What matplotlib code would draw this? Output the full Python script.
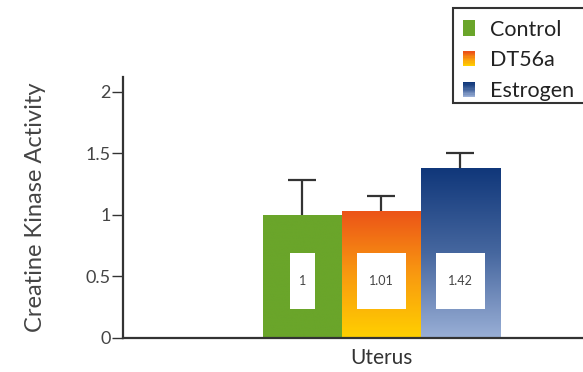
import numpy as np
import matplotlib.pyplot as plt
from matplotlib.colors import LinearSegmentedColormap
from matplotlib.patches import Rectangle
from matplotlib.legend_handler import HandlerBase

plt.rcParams['font.family'] = ['Lato', 'DejaVu Sans']

groups = ["Control", "DT56a", "Estrogen"]
values = [1.0, 1.03, 1.38]
errors = [0.28, 0.12, 0.12]
labels = ["1", "1.01", "1.42"]
category = "Uterus"
yticks = [0, 0.5, 1, 1.5, 2]
ytick_labels = ["0", "0.5", "1", "1.5", "2"]

# gradient colours, bottom -> top
grads = {
    "Control": ["#6aa52a", "#6aa52a"],
    "DT56a": ["#ffd000", "#f99a10", "#ec5418"],
    "Estrogen": ["#9aafd6", "#46679f", "#10377a"],
}
cmaps = {k: LinearSegmentedColormap.from_list(k, v) for k, v in grads.items()}


class GradientHandler(HandlerBase):
    def create_artists(self, legend, orig, xd, yd, w, h, fontsize, trans):
        cm = cmaps[orig.get_label()]
        n = 12
        out = []
        for i in range(n):
            r = Rectangle((-xd, -yd + h * i / n), w, h / n + 0.3,
                          facecolor=cm(i / (n - 1)), edgecolor='none',
                          transform=trans)
            out.append(r)
        return out


fig = plt.figure(figsize=(5.83, 3.72), dpi=100)
ax = fig.add_axes([0.211, 0.0914, 0.789, 0.7016])

x = np.arange(len(groups))
bars = ax.bar(x, values, width=1.0, color='none', edgecolor='none')
grad = np.linspace(0, 1, 256).reshape(-1, 1)
for b, g in zip(bars, groups):
    im = ax.imshow(grad, cmap=cmaps[g], origin='lower', aspect='auto',
                   extent=[b.get_x(), b.get_x() + b.get_width(), 0, b.get_height()],
                   zorder=1)
    im.set_clip_path(b)

eb = ax.errorbar(x, values, yerr=[np.zeros(len(values)), errors], fmt='none',
                 ecolor='#333333', elinewidth=1.6, capsize=10, capthick=1.6, zorder=3)
# only the upper cap
eb[1][0].set_visible(False)

for xi, lab in zip(x, labels):
    bw = 0.32 if len(lab) == 1 else 0.61
    ax.add_patch(Rectangle((xi - bw / 2, 0.236), bw, 0.455,
                           facecolor='white', edgecolor='none', zorder=4))
    ax.text(xi, 0.236 + 0.455 / 2, lab, ha='center', va='center',
            fontsize=9, color='#444444', zorder=5)

ax.set_xlim(-2.27, 3.55)
ax.set_ylim(0, 2.12)
ax.set_yticks(yticks)
ax.set_yticklabels(ytick_labels)
ax.set_xticks([1])
ax.set_xticklabels([category])
ax.tick_params(axis='x', length=0, pad=7, labelsize=15, labelcolor='#333333')
ax.tick_params(axis='y', length=8, width=1, color='#333333', pad=1,
               labelsize=13, labelcolor='#444444')
for s in ['top', 'right']:
    ax.spines[s].set_visible(False)
for s in ['left', 'bottom']:
    ax.spines[s].set_linewidth(1.6)
    ax.spines[s].set_color('#333333')
ax.set_ylabel("Creatine Kinase Activity", fontsize=17, color='#444444', labelpad=28)

# legend box runs off the right edge in the original
fig.patches.append(Rectangle((453 / 583, 1 - 103 / 372), 0.3, 95 / 372,
                             transform=fig.transFigure, facecolor='white',
                             edgecolor='#333333', linewidth=1.5))
handles = [Rectangle((0, 0), 1, 1, label=g) for g in groups]
leg = fig.legend(handles=handles, labels=groups, loc='upper left',
                 bbox_to_anchor=(453 / 583, 1 - 10 / 372), borderaxespad=0,
                 handler_map={Rectangle: GradientHandler()},
                 fontsize=15.5, handlelength=0.55, handleheight=0.7,
                 handletextpad=0.7, labelspacing=0.5, borderpad=0.45,
                 frameon=False)
for t in leg.get_texts():
    t.set_color('#222222')

fig.savefig("out.png", dpi=100)
